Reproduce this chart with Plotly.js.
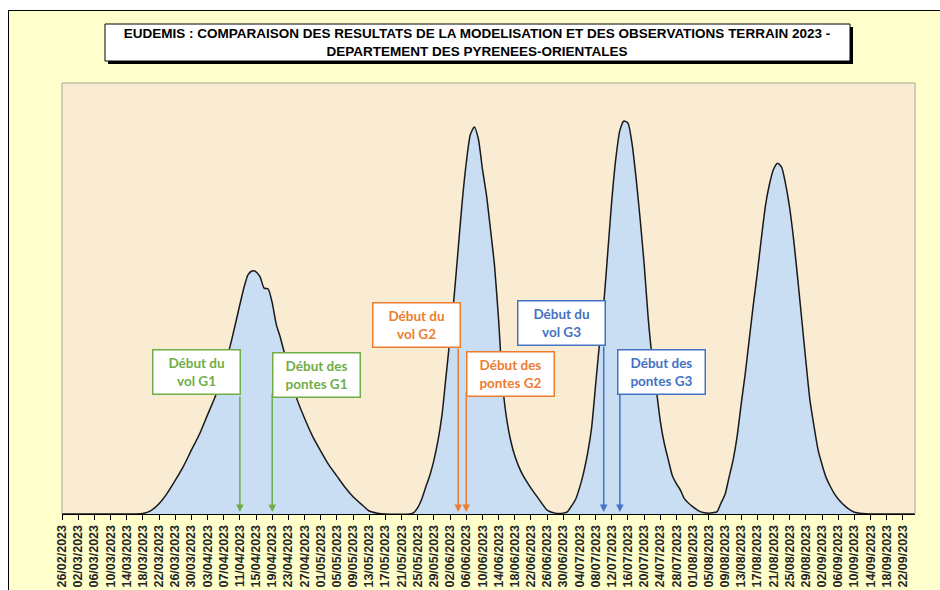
<!DOCTYPE html>
<html>
<head>
<meta charset="utf-8">
<script src="https://cdn.plot.ly/plotly-3.0.1.min.js"></script>
<style>html,body{margin:0;padding:0;background:#fff;}#chart{width:940px;height:590px;}</style>
</head>
<body>
<div id="chart"></div>
<script>
// ---- data ----
const dates = [
 '2023-02-26','2023-03-08','2023-03-16','2023-03-18','2023-03-20','2023-03-22','2023-03-24','2023-03-26','2023-03-28','2023-03-30',
 '2023-04-01','2023-04-03','2023-04-05','2023-04-07','2023-04-09','2023-04-11','2023-04-12','2023-04-13','2023-04-14','2023-04-15',
 '2023-04-16','2023-04-17','2023-04-18','2023-04-19','2023-04-20','2023-04-21','2023-04-22','2023-04-23','2023-04-25','2023-04-27',
 '2023-04-29','2023-05-01','2023-05-03','2023-05-05','2023-05-07','2023-05-09','2023-05-11','2023-05-13','2023-05-15','2023-05-17',
 '2023-05-23','2023-05-24','2023-05-25','2023-05-26','2023-05-27','2023-05-28','2023-05-29','2023-05-30','2023-05-31','2023-06-01',
 '2023-06-02','2023-06-03','2023-06-04','2023-06-05','2023-06-06','2023-06-07','2023-06-08','2023-06-09','2023-06-10','2023-06-11',
 '2023-06-12','2023-06-13','2023-06-14','2023-06-15','2023-06-16','2023-06-17','2023-06-18','2023-06-19','2023-06-20','2023-06-22',
 '2023-06-24','2023-06-26','2023-06-28','2023-06-29','2023-06-30','2023-07-01','2023-07-02','2023-07-03','2023-07-04','2023-07-05',
 '2023-07-06','2023-07-07','2023-07-08','2023-07-09','2023-07-10','2023-07-11','2023-07-12','2023-07-13','2023-07-14','2023-07-15',
 '2023-07-16','2023-07-17','2023-07-18','2023-07-19','2023-07-20','2023-07-21','2023-07-22','2023-07-23','2023-07-24','2023-07-25',
 '2023-07-26','2023-07-27','2023-07-28','2023-07-29','2023-07-30','2023-08-01','2023-08-03','2023-08-05','2023-08-06','2023-08-07',
 '2023-08-08','2023-08-09','2023-08-10','2023-08-11','2023-08-12','2023-08-13','2023-08-14','2023-08-15','2023-08-16','2023-08-17',
 '2023-08-18','2023-08-19','2023-08-20','2023-08-21','2023-08-22','2023-08-23','2023-08-24','2023-08-25','2023-08-26','2023-08-27',
 '2023-08-28','2023-08-29','2023-08-30','2023-08-31','2023-09-01','2023-09-02','2023-09-03','2023-09-04','2023-09-05','2023-09-06',
 '2023-09-08','2023-09-10','2023-09-12','2023-09-14','2023-09-25'
];
const flight = [
 0,0,0,0.1,0.8,2.4,4.8,7.8,11,14.8,
 18.5,23,27.5,33.4,40.5,48.6,52.5,55.5,56.4,56.2,
 55,52.4,52.2,49,44,41,37.5,35.5,27,22.2,
 18,14.6,11.4,8.8,6.2,4.0,2.3,0.7,0.2,0,
 0,0.3,1.5,3.5,6.3,9,12.5,17,23,32,
 41,50.5,61.5,72.5,81.5,88,89.8,87,80,74,
 66,57.5,45,30,22,17,13.5,11,9,6,
 3.4,0.9,0.2,0.1,0.2,0.5,1.8,3.3,6,9.5,
 14,20,30,40,48.7,60.7,72.8,82.5,89,91.2,
 90.7,86,78,68.5,58,45.5,36,29,21.5,16.3,
 12.5,8.8,7,5.5,3.5,1.7,0.5,0.2,0.3,0.5,
 2.5,4.5,8.5,12.5,18,25.5,32.5,40.5,48.5,56,
 64,71.5,76.5,80,81.4,80.5,76.5,71,63.5,54.5,
 45,35.5,26.5,20.5,15,11.5,8.5,6.5,4.8,3.5,
 1.6,0.4,0.1,0,0
];

// observation markers
const obsLabels = ['Début du<br>vol G1','Début des<br>pontes G1','Début du<br>vol G2','Début des<br>pontes G2','Début du<br>vol G3','Début des<br>pontes G3'];
const obsDates  = ['2023-04-11','2023-04-19','2023-06-04','2023-06-06','2023-07-10','2023-07-14'];
const obsColors = ['#70AD47','#70AD47','#ED7D31','#ED7D31','#4472C4','#4472C4'];

const titleText = 'EUDEMIS : COMPARAISON DES RESULTATS DE LA MODELISATION ET DES OBSERVATIONS TERRAIN 2023 -<br>DEPARTEMENT DES PYRENEES-ORIENTALES';

// ---- layout geometry (pixels) ----
const L = 62, R = 915, T = 83, B = 514;
const px = p => (p - L) / (R - L);
const py = p => (B - p) / (B - T);

// box placement: horizontal shift from arrow, box centre y pixel, arrow tail y pixel
const boxShift = [-43, 44, -42, 44, -42, 42];
const boxCY    = [372, 375, 325, 374, 323, 372];
const tailY    = [395, 392, 347, 390, 345, 390];

const annotations = [];
obsDates.forEach((d, i) => {
  annotations.push({
    x: d, y: 0, xref: 'x', yref: 'y', yshift: 2,
    text: '', showarrow: true, ax: 0, ay: tailY[i] - (B - 2),
    arrowcolor: obsColors[i], arrowwidth: 1.5, arrowhead: 2, arrowsize: 1, standoff: 0, startstandoff: 0
  });
});
obsDates.forEach((d, i) => {
  annotations.push({
    x: d, y: py(boxCY[i]) * 100, xref: 'x', yref: 'y', xshift: boxShift[i],
    text: obsLabels[i], showarrow: false,
    font: {family: 'Lato, "Open Sans", sans-serif', size: 13.5, color: obsColors[i], weight: 'bold'},
    bgcolor: '#FFFFFF', bordercolor: obsColors[i], borderwidth: 1.5, borderpad: 4,
    width: 78, height: 35, align: 'center', valign: 'middle'
  });
});

const shapes = [
  // white margins outside the outer frame
  {type: 'rect', xref: 'paper', yref: 'paper', x0: px(-5), x1: px(950), y0: py(10), y1: py(-5), fillcolor: '#FFFFFF', line: {width: 0}, layer: 'below'},
  {type: 'rect', xref: 'paper', yref: 'paper', x0: px(-5), x1: px(8), y0: py(600), y1: py(-5), fillcolor: '#FFFFFF', line: {width: 0}, layer: 'below'},
  // outer frame lines
  {type: 'line', xref: 'paper', yref: 'paper', x0: px(8), x1: px(950), y0: py(10.5), y1: py(10.5), line: {color: '#000', width: 1}},
  {type: 'line', xref: 'paper', yref: 'paper', x0: px(8.5), x1: px(8.5), y0: py(10), y1: py(600), line: {color: '#000', width: 1}},
  // plot-area border (top, left, right)
  {type: 'line', xref: 'paper', yref: 'paper', x0: 0, x1: 1, y0: 1, y1: 1, line: {color: '#A8A290', width: 1}},
  {type: 'line', xref: 'paper', yref: 'paper', x0: 0, x1: 0, y0: 0, y1: 1, line: {color: '#A8A290', width: 1}},
  {type: 'line', xref: 'paper', yref: 'paper', x0: 1, x1: 1, y0: 0, y1: 1, line: {color: '#A8A290', width: 1}},
  // title box shadow and box
  {type: 'rect', xref: 'paper', yref: 'paper', x0: px(108), x1: px(853), y0: py(64), y1: py(27), fillcolor: '#000000', line: {width: 0}},
  {type: 'rect', xref: 'paper', yref: 'paper', x0: px(105), x1: px(850), y0: py(61), y1: py(24), fillcolor: '#FFFFFF', line: {color: '#000000', width: 1}}
];

const trace = {
  x: dates, y: flight, type: 'scatter', mode: 'lines',
  line: {color: '#1A1A1A', width: 1.5, shape: 'spline', smoothing: 0.6},
  fill: 'tozeroy', fillcolor: '#C9DEF3', hoverinfo: 'skip'
};

const layout = {
  width: 940, height: 590,
  margin: {l: L, r: 940 - R, t: T, b: 590 - B},
  paper_bgcolor: '#FFFFCC', plot_bgcolor: '#FAEBD3',
  showlegend: false,
  title: {text: titleText, x: 477 / 940, xanchor: 'center', y: 1 - 42.5 / 590, yanchor: 'middle', xref: 'container', yref: 'container',
          font: {family: '"Liberation Sans", Arial, sans-serif', size: 13.5, color: '#000', weight: 'bold', lineposition: 'none'}},
  xaxis: {type: 'date', range: ['2023-02-26', '2023-09-25'], tick0: '2023-02-26', dtick: 4 * 86400000,
          tickformat: '%d/%m/%Y', tickangle: -90, ticks: 'outside', ticklen: 5, tickcolor: '#000', tickwidth: 1,
          showline: true, linecolor: '#000', linewidth: 1, showgrid: false, zeroline: false,
          tickfont: {family: '"Liberation Sans", Arial, sans-serif', size: 12.5, color: '#262626', weight: 'bold'}},
  yaxis: {range: [0, 100], showticklabels: false, showgrid: false, zeroline: false, ticks: '', showline: false, fixedrange: true},
  shapes: shapes,
  annotations: annotations
};

Plotly.newPlot('chart', [trace], layout, {displayModeBar: false, staticPlot: true}).then(() => {
  // tighten title position so both lines sit inside the box
  const t = document.querySelector('.gtitle');
  if (t) {
    const bb = t.getBBox();
    const target = 42.5;
    const cur = bb.y + bb.height / 2;
    t.setAttribute('transform', 'translate(0,' + (target - cur) + ')');
  }
});
</script>
</body>
</html>
